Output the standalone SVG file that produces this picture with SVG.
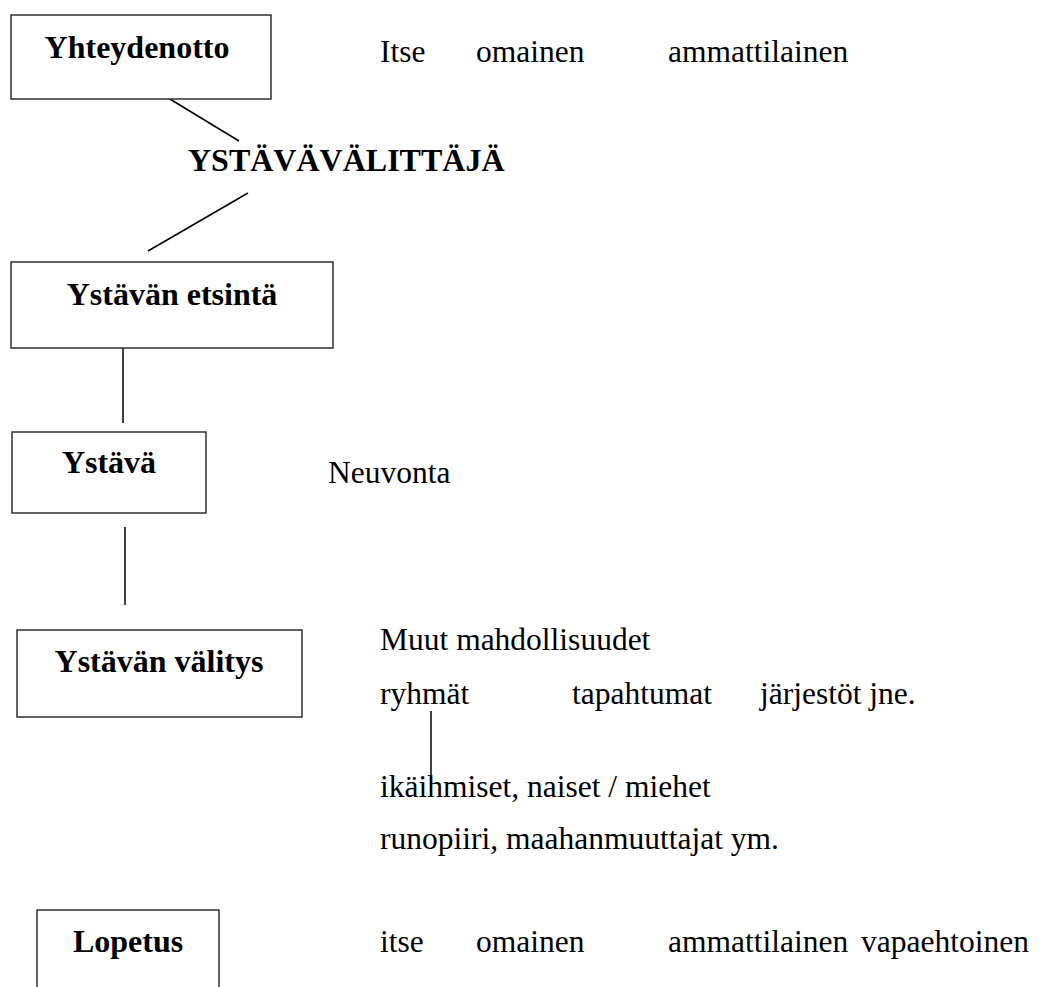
<svg xmlns="http://www.w3.org/2000/svg" width="1041" height="987" viewBox="0 0 1041 987">
<style>
.box{fill:#fff;stroke:#222;stroke-width:1.4}
.b{font-family:"Liberation Serif","Times New Roman",serif;font-weight:bold;font-size:32px;fill:#000}
.r{font-family:"Liberation Serif","Times New Roman",serif;font-size:31.5px;fill:#000}
.ln{stroke:#000;stroke-width:1.5;fill:none}
</style>
<rect width="1041" height="987" fill="#fff"/>
<g id="connectors">
<line class="ln" x1="160" y1="93" x2="239" y2="141"/>
<line class="ln" x1="248" y1="193" x2="148" y2="251"/>
<line class="ln" x1="123" y1="345" x2="123" y2="423"/>
<line class="ln" x1="125" y1="527" x2="125" y2="605"/>
<line class="ln" x1="431" y1="711" x2="431" y2="789"/>
</g>
<g id="yhteydenotto">
<rect class="box" x="11" y="15" width="260" height="84"/>
<text class="b" x="137" y="58" text-anchor="middle">Yhteydenotto</text>
</g>
<g id="ystavavalittaja">
<text class="b" x="188" y="171">YSTÄVÄVÄLITTÄJÄ</text>
</g>
<g id="ystavan-etsinta">
<rect class="box" x="11" y="262" width="322" height="86"/>
<text class="b" x="172" y="305" text-anchor="middle">Ystävän etsintä</text>
</g>
<g id="ystava">
<rect class="box" x="12" y="432" width="194" height="81"/>
<text class="b" x="109" y="473" text-anchor="middle">Ystävä</text>
</g>
<g id="ystavan-valitys">
<rect class="box" x="17" y="630" width="285" height="87"/>
<text class="b" x="159" y="672" text-anchor="middle">Ystävän välitys</text>
</g>
<g id="lopetus">
<rect class="box" x="37" y="910" width="182" height="90"/>
<text class="b" x="128" y="952" text-anchor="middle">Lopetus</text>
</g>
<g id="labels">
<text class="r" x="380" y="62">Itse</text>
<text class="r" x="476" y="62">omainen</text>
<text class="r" x="668" y="62">ammattilainen</text>
<text class="r" x="328" y="483">Neuvonta</text>
<text class="r" x="380" y="650">Muut mahdollisuudet</text>
<text class="r" x="380" y="704">ryhmät</text>
<text class="r" x="572" y="704">tapahtumat</text>
<text class="r" x="760" y="704">järjestöt jne.</text>
<text class="r" x="380" y="797">ikäihmiset, naiset / miehet</text>
<text class="r" x="380" y="849">runopiiri, maahanmuuttajat ym.</text>
<text class="r" x="380" y="952">itse</text>
<text class="r" x="476" y="952">omainen</text>
<text class="r" x="668" y="952">ammattilainen</text>
<text class="r" x="861" y="952">vapaehtoinen</text>
</g>
</svg>
